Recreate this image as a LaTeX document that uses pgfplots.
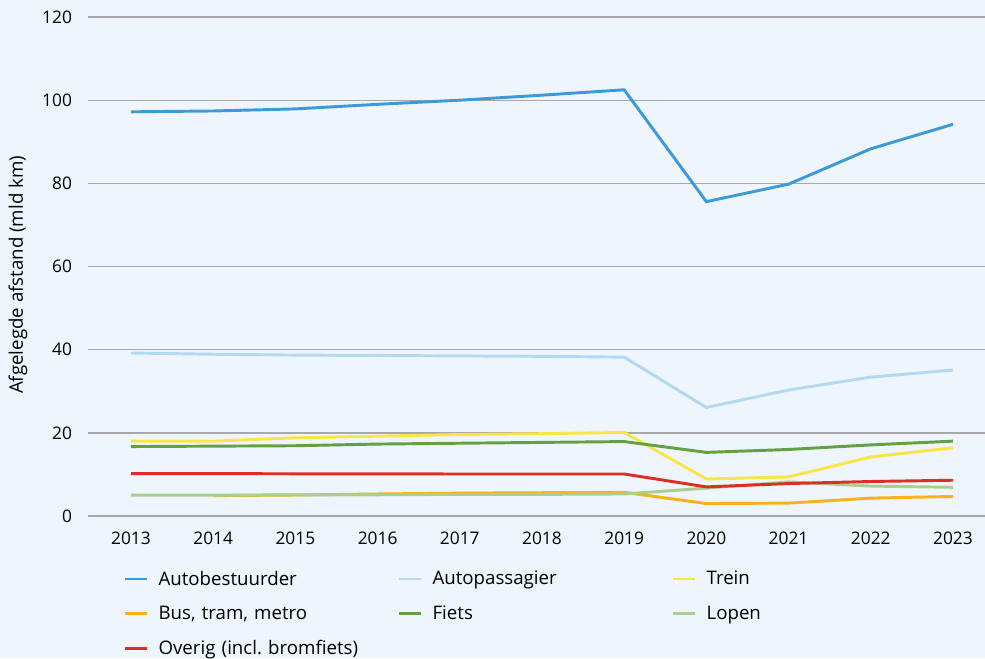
\documentclass[border=0pt]{standalone}
\usepackage{pgfplots}
\pgfplotsset{compat=1.18}
\usepackage{fontspec}
\setmainfont{Open Sans}
\frenchspacing
\definecolor{bgc}{HTML}{EEF5FC}
\definecolor{gridc}{HTML}{A8A8A8}
\definecolor{cAuto}{HTML}{3D9AD6}
\definecolor{cPass}{HTML}{B3D9F1}
\definecolor{cTrein}{HTML}{F9E548}
\definecolor{cBus}{HTML}{F9B21B}
\definecolor{cFiets}{HTML}{64A043}
\definecolor{cLopen}{HTML}{A8CF8E}
\definecolor{cOverig}{HTML}{DD2E24}
\begin{document}
\begin{tikzpicture}
\fill[bgc] (-66pt,-106.5pt) rectangle (672.75pt,387pt);
\begin{axis}[
  at={(0,0)}, anchor=south west,
  scale only axis,
  width=672.75pt, height=374.25pt,
  xmin=2012.477, xmax=2023.39,
  ymin=0, ymax=120,
  xtick={2013,2014,2015,2016,2017,2018,2019,2020,2021,2022,2023},
  xticklabels={2013,2014,2015,2016,2017,2018,2019,2020,2021,2022,2023},
  ytick={0,20,40,60,80,100,120},
  ymajorgrids,
  grid style={gridc, line width=1pt},
  axis line style={draw=none},
  major tick length=0pt,
  /pgf/number format/assume math mode=true,
  tick label style={font=\fontsize{13}{15}\selectfont, black},
  yticklabel style={xshift=-8.5pt},
  xticklabel style={yshift=-8.5pt},
  ylabel={Afgelegde afstand (mld km)},
  ylabel style={at={(axis description cs:-0.078,0.483)}, anchor=center, font=\fontsize{14}{16}\selectfont},
  legend columns=3,
  legend cell align=left,
  legend style={at={(23.25pt,-38pt)}, anchor=north west, draw=none, fill=none,
    font=\fontsize{14}{16}\selectfont,
    nodes={text width=178pt, align=left, inner sep=1pt},
    row sep=12pt,
    /tikz/every even column/.append style={column sep=0pt},
    /tikz/every odd column/.append style={column sep=7pt}},
  legend image code/.code={\draw[#1, line width=2pt] (0pt,0pt) -- (16.5pt,0pt);},
  every axis plot/.append style={line width=2.2pt, no markers},
]
\addplot[cAuto] coordinates {(2013,97.2) (2014,97.4) (2015,97.9) (2016,99.0) (2017,100.0) (2018,101.2) (2019,102.5) (2020,75.6) (2021,79.8) (2022,88.3) (2023,94.2)};
\addlegendentry{Autobestuurder}
\addplot[cPass] coordinates {(2013,39.2) (2014,38.9) (2015,38.7) (2016,38.6) (2017,38.5) (2018,38.4) (2019,38.2) (2020,26.1) (2021,30.3) (2022,33.4) (2023,35.1)};
\addlegendentry{Autopassagier}
\addplot[cTrein] coordinates {(2013,18.0) (2014,18.0) (2015,18.8) (2016,19.2) (2017,19.6) (2018,19.8) (2019,20.1) (2020,8.9) (2021,9.4) (2022,14.2) (2023,16.4)};
\addlegendentry{Trein}
\addplot[cBus] coordinates {(2014,4.9) (2015,5.05) (2016,5.3) (2017,5.5) (2018,5.6) (2019,5.7) (2020,3.0) (2021,3.1) (2022,4.3) (2023,4.7)};
\addlegendentry{Bus, tram, metro}
\addplot[cFiets] coordinates {(2013,16.7) (2014,16.8) (2015,16.9) (2016,17.3) (2017,17.5) (2018,17.7) (2019,17.9) (2020,15.3) (2021,16.0) (2022,17.1) (2023,18.0)};
\addlegendentry{Fiets}
\addplot[cLopen] coordinates {(2013,5.0) (2014,5.0) (2015,5.1) (2016,5.1) (2017,5.2) (2018,5.2) (2019,5.3) (2020,6.7) (2021,8.2) (2022,7.2) (2023,6.9)};
\addlegendentry{Lopen}
\addplot[cOverig] coordinates {(2013,10.2) (2014,10.2) (2015,10.15) (2016,10.15) (2017,10.1) (2018,10.1) (2019,10.1) (2020,7.0) (2021,7.8) (2022,8.3) (2023,8.6)};
\addlegendentry{Overig (incl. bromfiets)}
\end{axis}
\pgfresetboundingbox
\path[use as bounding box] (-66pt,-106.5pt) rectangle (672.75pt,387pt);
\end{tikzpicture}
\end{document}
